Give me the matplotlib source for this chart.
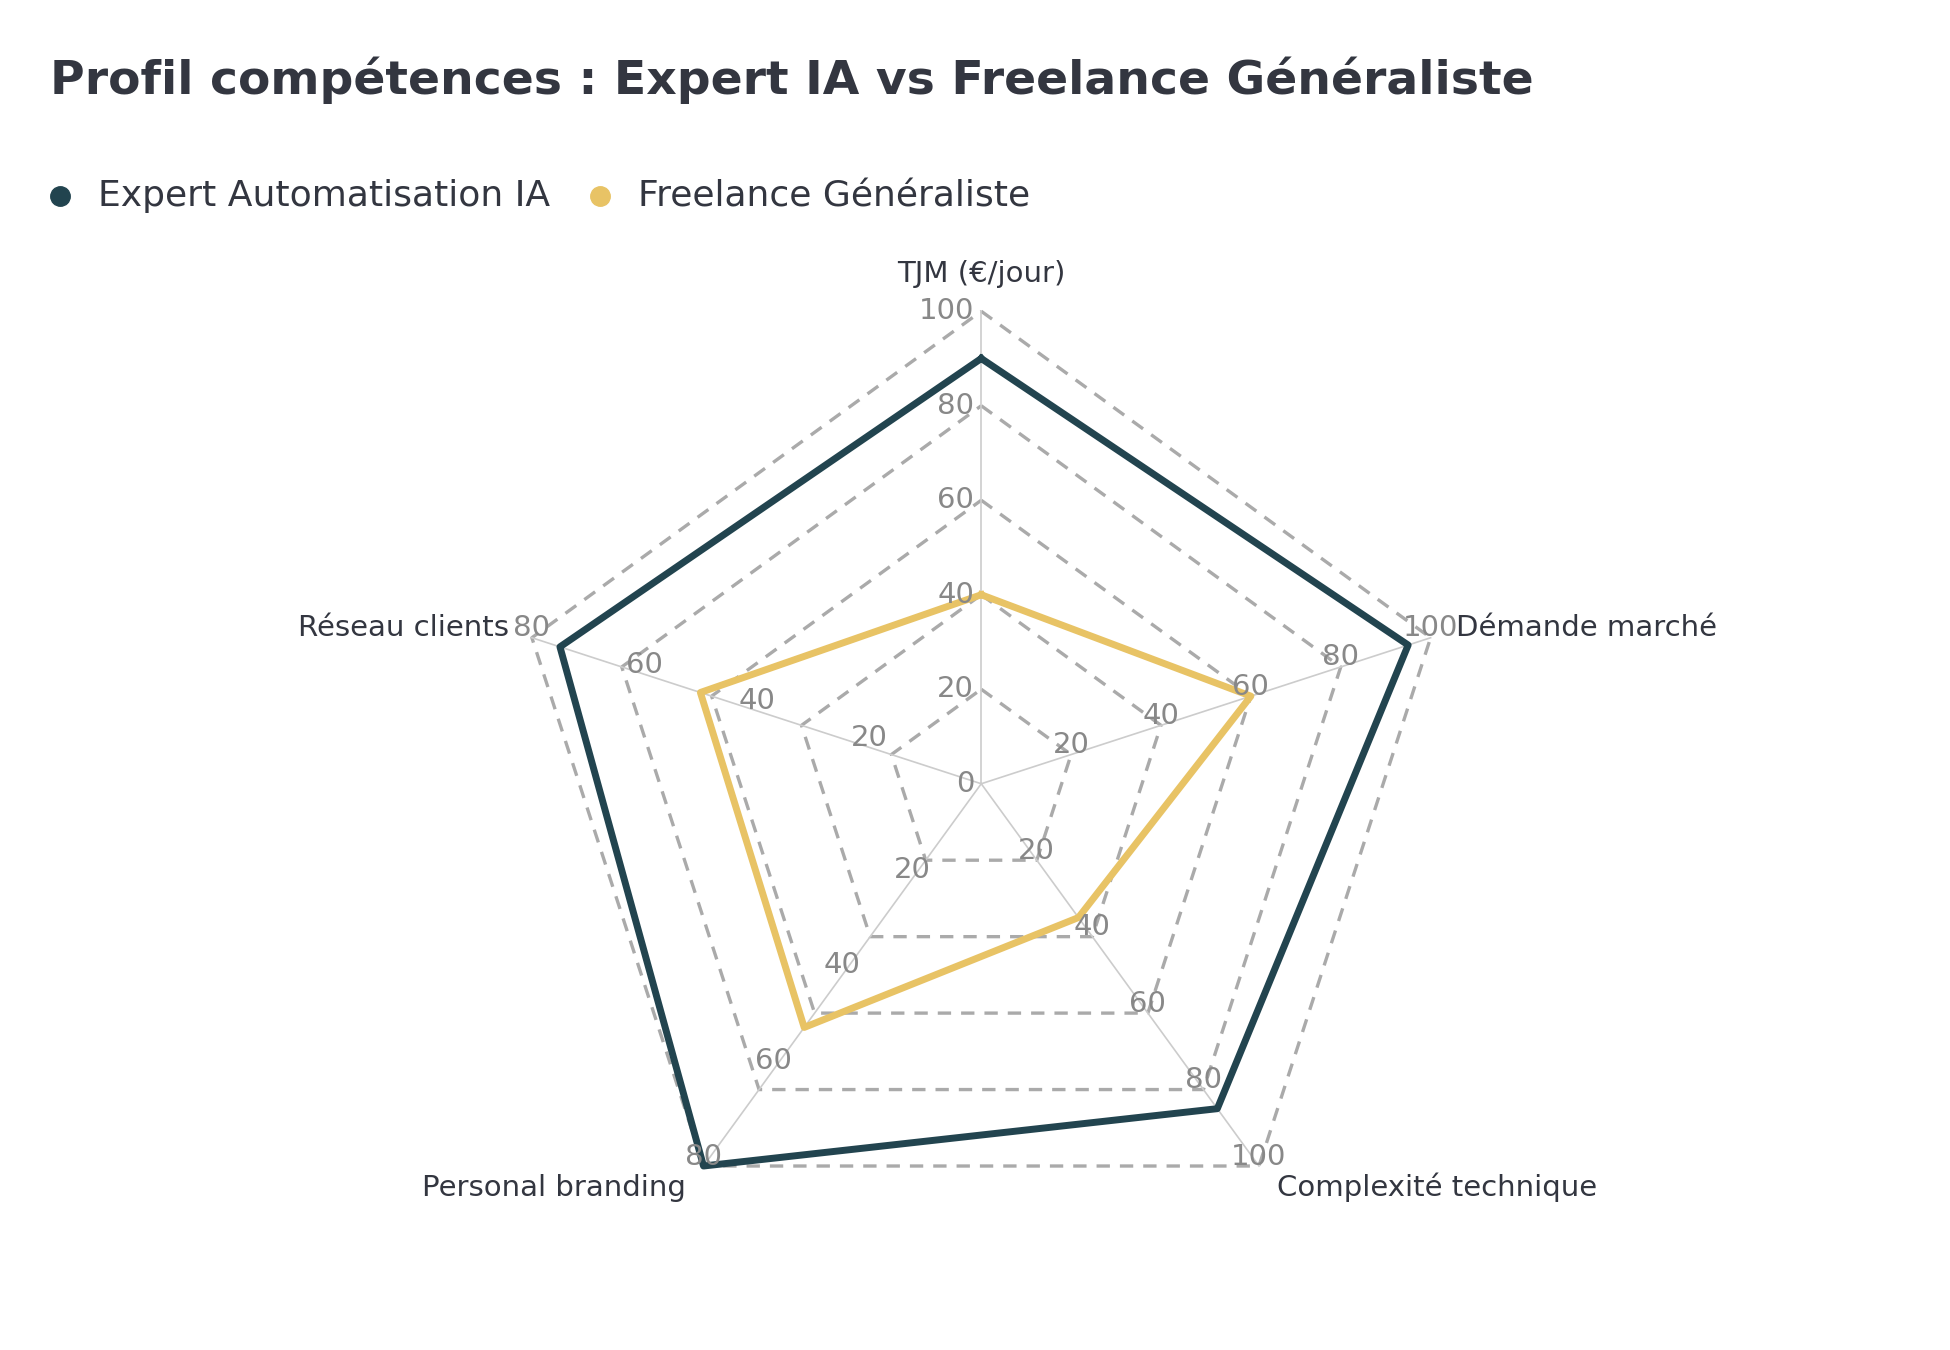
import numpy as np
import matplotlib.pyplot as plt

# Données du radar
axes_noms = ['TJM (€/jour)', 'Démande marché', 'Complexité technique', 'Personal branding', 'Réseau clients']
axes_max = [100, 100, 100, 80, 80]
expert = [90, 95, 85, 80, 75]
freelance = [40, 60, 35, 51, 50]
ticks_axes = [[0, 20, 40, 60, 80, 100], [20, 40, 60, 80, 100], [20, 40, 60, 80, 100],
              [20, 40, 60, 80], [20, 40, 60, 80]]

col_expert = '#22444f'
col_free = '#e8c365'
col_txt = '#333640'

# repère de mise en page (pixels de la vue 1560x1080)
W, H = 1560, 1080
cx, cy, R = 785, 627, 378

fig = plt.figure(figsize=(19.5, 13.5), dpi=100)
ax = fig.add_axes([0, 0, 1, 1])
ax.set_xlim(-cx / R, (W - cx) / R)
ax.set_ylim(-(H - cy) / R, cy / R)
ax.set_aspect('equal')
ax.axis('off')

n = len(axes_noms)
theta = np.arange(n) * 2 * np.pi / n
sx, sy = np.sin(theta), np.cos(theta)

# anneaux et rayons
for f in [0.2, 0.4, 0.6, 0.8, 1.0]:
    ax.plot(np.append(f * sx, f * sx[0]), np.append(f * sy, f * sy[0]),
            ls=(0, (4, 3)), color='#aaaaaa', lw=2.4, zorder=1)
for i in range(n):
    ax.plot([0, sx[i]], [0, sy[i]], color='#cccccc', lw=1.2, zorder=1)


def poly(vals):
    r = np.array(vals) / np.array(axes_max)
    return np.append(r * sx, r[0] * sx[0]), np.append(r * sy, r[0] * sy[0])


x, y = poly(freelance)
ax.plot(x, y, color=col_free, lw=5, zorder=3)
x, y = poly(expert)
ax.plot(x, y, color=col_expert, lw=5, zorder=4)

# graduations par axe
for i in range(n):
    for t in ticks_axes[i]:
        r = t / axes_max[i]
        if i == 0:
            ax.text(r * sx[i] - 0.015, r * sy[i], str(t), ha='right', va='center',
                    fontsize=21, color='#888888', zorder=5)
        else:
            ax.text(r * sx[i], r * sy[i] + 0.02, str(t), ha='center', va='center',
                    fontsize=21, color='#888888', zorder=5)

# noms des axes
lbl = [(0, 1.05, 'center', 'bottom'), (1.005, 0.33, 'left', 'center'),
       (0.625, -0.855, 'left', 'center'), (-0.625, -0.855, 'right', 'center'),
       (-1.0, 0.33, 'right', 'center')]
for (lx, ly, ha, va), nom in zip(lbl, axes_noms):
    ax.text(lx, ly, nom, ha=ha, va=va, fontsize=21, color=col_txt, zorder=6)

fig.text(40 / W, 1 - 64 / H, 'Profil compétences : Expert IA vs Freelance Généraliste',
         fontsize=34, fontweight='bold', color=col_txt, va='center')

# légende
for px, txt, c in [(48, 'Expert Automatisation IA', col_expert), (480, 'Freelance Généraliste', col_free)]:
    fig.add_artist(plt.Line2D([px / W], [1 - 157 / H], marker='o', color=c, markersize=14, lw=0))
    fig.text((px + 30) / W, 1 - 157 / H, txt, fontsize=26, color=col_txt, va='center')

fig.savefig('out.png', dpi=100)
